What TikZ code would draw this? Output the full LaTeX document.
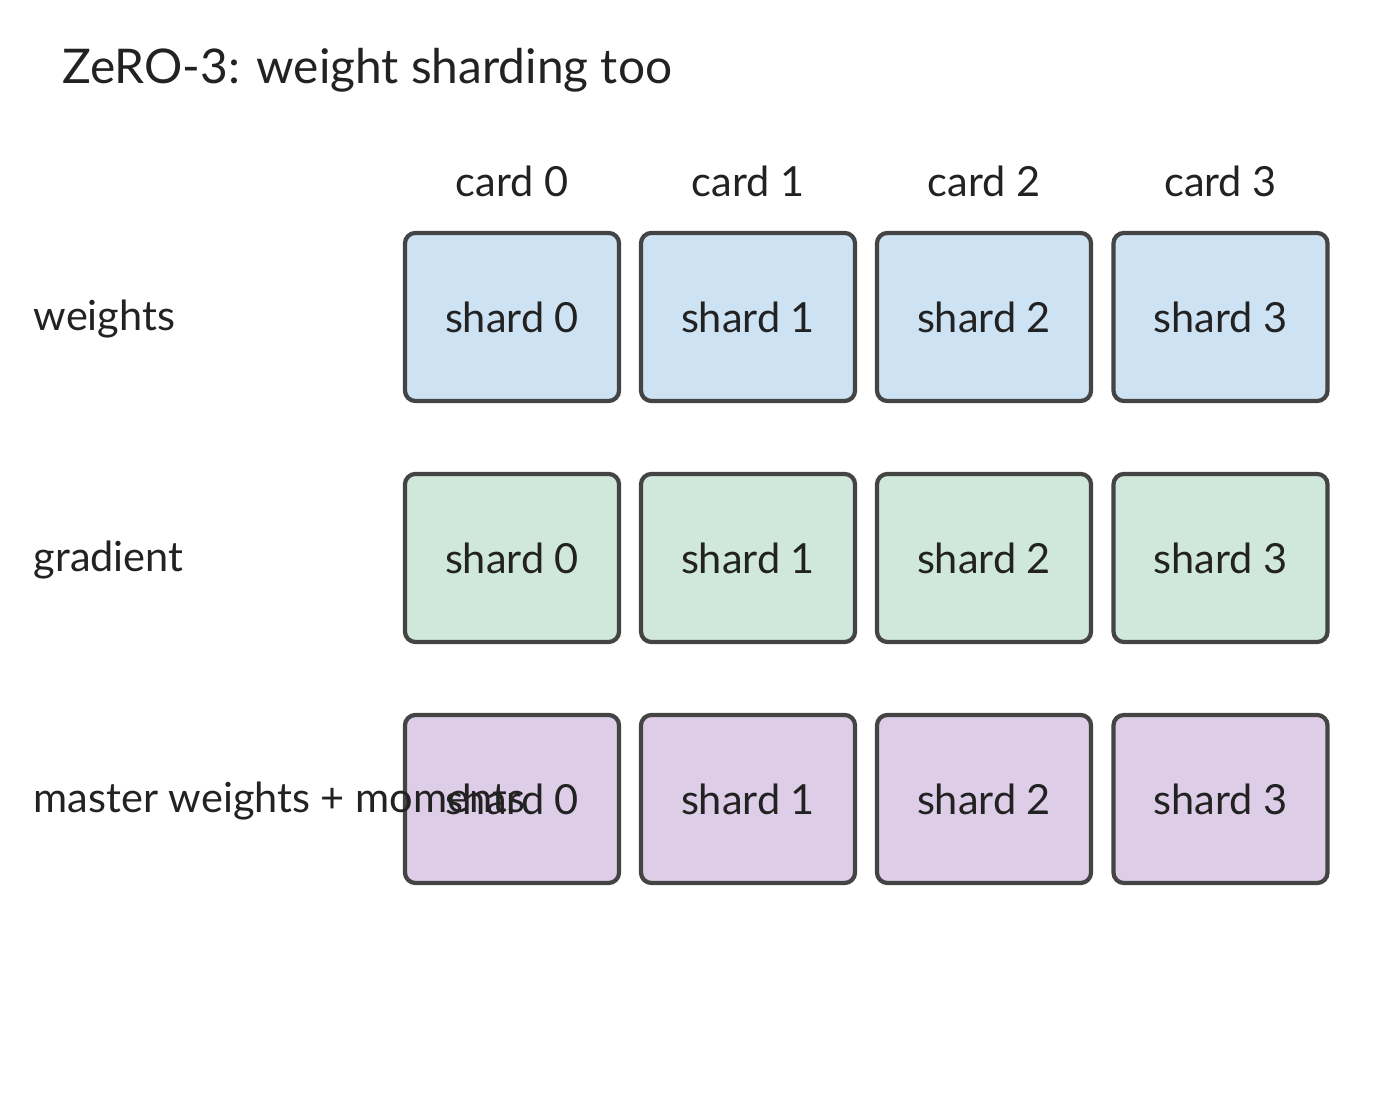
\documentclass[tikz,border=0pt]{standalone}
\usepackage{fontspec}
\setmainfont{Lato}
\definecolor{wblue}{HTML}{CDE2F2}
\definecolor{ggreen}{HTML}{D0E8DC}
\definecolor{mpurple}{HTML}{DDCDE7}
\definecolor{edgegray}{HTML}{444444}
\definecolor{txtgray}{HTML}{222222}
\tikzset{
  shard/.style={draw=edgegray,line width=1.2pt,rounded corners=3pt,minimum width=2.14cm,minimum height=1.68cm,inner sep=0pt,font=\fontsize{11.8}{14}\selectfont,text=txtgray},
  rowlabel/.style={anchor=base west,inner sep=0pt,font=\fontsize{11.8}{14}\selectfont,text=txtgray},
  cardlabel/.style={inner sep=0pt,font=\fontsize{11.8}{14}\selectfont,text=txtgray}
}
\begin{document}
\begin{tikzpicture}[x=0.01cm,y=-0.01cm]
\useasboundingbox (0,0) rectangle (1400,1107);

% title
\node[anchor=base west,inner sep=0pt,font=\fontsize{13.6}{16}\selectfont,text=txtgray] (title) at (62,84) {ZeRO-3: weight sharding too};

% cards
\foreach \i/\x in {0/512,1/748,2/984,3/1220.5}{
  \node[cardlabel] (card\i) at (\x,181) {card \i};
  \node[shard,fill=wblue] (w\i) at (\x,317) {shard \i};
  \node[shard,fill=ggreen] (g\i) at (\x,558) {shard \i};
  \node[shard,fill=mpurple] (m\i) at (\x,799) {shard \i};
}

% row labels
\node[rowlabel] (wlabel) at (33,331) {weights};
\node[rowlabel] (glabel) at (33,572) {gradient};
\node[rowlabel] (mlabel) at (33,813) {master weights + moments};

\end{tikzpicture}
\end{document}
